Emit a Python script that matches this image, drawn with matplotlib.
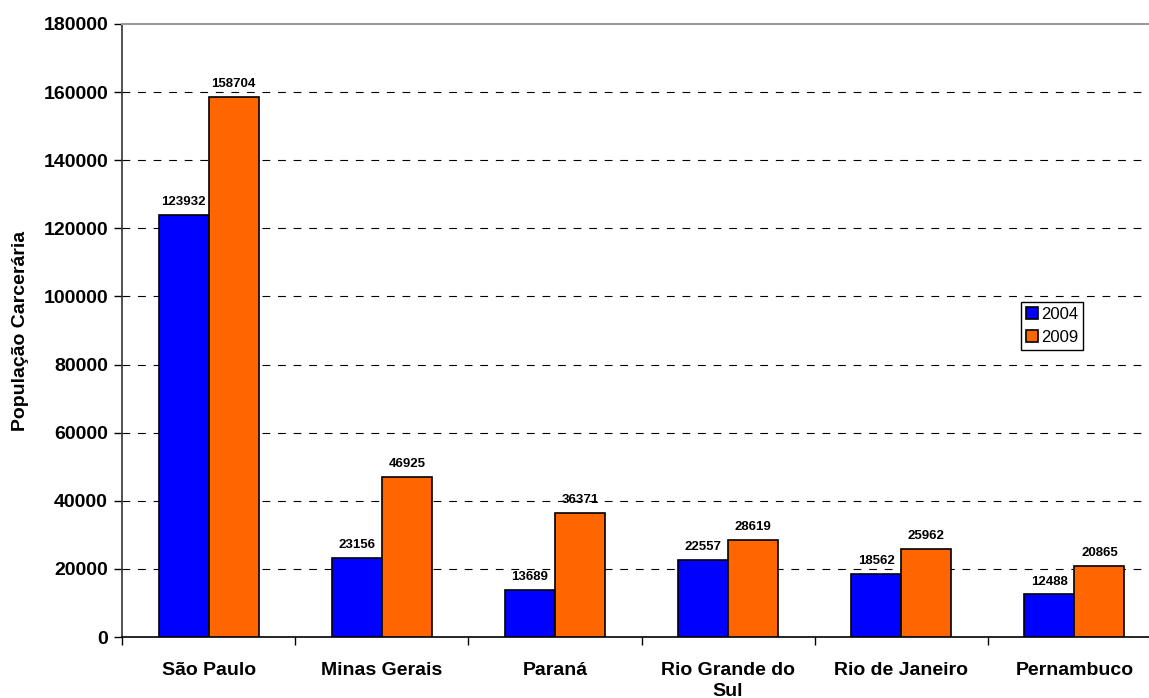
import matplotlib
matplotlib.use("Agg")
import matplotlib.pyplot as plt
import numpy as np

plt.rcParams['font.family'] = ['Liberation Sans', 'DejaVu Sans']

categories = ["São Paulo", "Minas Gerais", "Paraná", "Rio Grande do\nSul", "Rio de Janeiro", "Pernambuco"]
series_names = ["2004", "2009"]
values_2004 = [123932, 23156, 13689, 22557, 18562, 12488]
values_2009 = [158704, 46925, 36371, 28619, 25962, 20865]
y_ticks = [0, 20000, 40000, 60000, 80000, 100000, 120000, 140000, 160000, 180000]

W, H = 1149, 698
fig = plt.figure(figsize=(W / 100, H / 100), dpi=100)
x0, x1, ytop, ybot = 122, 1161, 24, 637
ax = fig.add_axes([x0 / W, (H - ybot) / H, (x1 - x0) / W, (ybot - ytop) / H])

x = np.arange(len(categories))
bw = 50 / 173
b1 = ax.bar(x - bw / 2, values_2004, bw, color="#0000FF", edgecolor="black", linewidth=1.2, label=series_names[0], zorder=3)
b2 = ax.bar(x + bw / 2, values_2009, bw, color="#FF6600", edgecolor="black", linewidth=1.2, label=series_names[1], zorder=3)

for bars, vals in ((b1, values_2004), (b2, values_2009)):
    for r, v in zip(bars, vals):
        ax.annotate(str(v), (r.get_x() + r.get_width() / 2, v), xytext=(0, 5), textcoords="offset points",
                    ha="center", va="bottom", fontsize=9.5, fontweight="bold", zorder=4)

ax.set_xlim(-0.5, len(categories) - 0.5)
ax.set_ylim(0, 180000)
ax.set_yticks(y_ticks)
ax.set_yticklabels([str(t) for t in y_ticks], fontsize=14, fontweight="bold")
for t in y_ticks[1:-1]:
    ax.axhline(t, color="black", linewidth=0.8, linestyle=(0, (7, 7)), zorder=1)

ax.set_xticks(x)
ax.set_xticklabels(categories, fontsize=14, fontweight="bold", va="top", linespacing=1.3)
ax.set_xticks(np.arange(len(categories) + 1) - 0.5, minor=True)
ax.tick_params(axis="x", which="major", length=0, pad=18)
ax.tick_params(axis="x", which="minor", length=6, width=1, direction="out")
ax.tick_params(axis="y", length=6, width=1, direction="out", pad=4)

ax.spines["right"].set_visible(False)
ax.spines["top"].set_color("#999999")
ax.spines["top"].set_linewidth(1.5)
ax.spines["left"].set_color("#333333")
ax.spines["left"].set_linewidth(1.2)
ax.spines["bottom"].set_color("black")
ax.spines["bottom"].set_linewidth(1.2)

ax.set_ylabel("População Carcerária", fontsize=14, fontweight="bold", labelpad=10)

leg = ax.legend(loc="upper left", bbox_to_anchor=((1021 - x0) / (x1 - x0), (ybot - 302) / (ybot - ytop)),
                fontsize=12, frameon=True, fancybox=False, edgecolor="black", framealpha=1,
                handlelength=0.7, handleheight=0.7, handletextpad=0.2, borderpad=0.3, labelspacing=0.45,
                borderaxespad=0)
leg.get_frame().set_linewidth(1.0)

fig.savefig("out.png", dpi=100)
